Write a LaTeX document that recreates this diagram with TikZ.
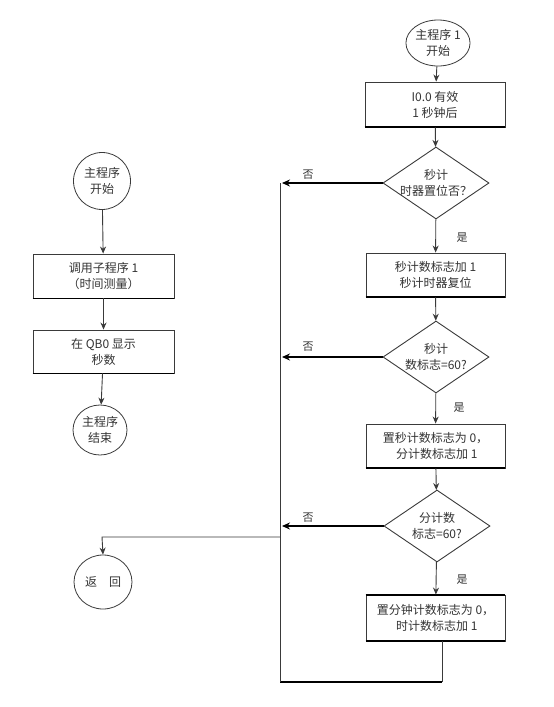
\documentclass[tikz,border=0pt]{standalone}
\usepackage{fontspec}
\setmainfont{Noto Sans CJK SC}
\usetikzlibrary{shapes.geometric,arrows.meta}
\definecolor{ink}{HTML}{333333}
\definecolor{ln}{HTML}{3A3A3A}
\tikzset{
  every node/.style={font=\fontsize{12}{16}\selectfont, text=ink, align=center},
  term/.style={ellipse, draw=ln, line width=0.8pt, inner sep=0pt},
  procbox/.style={rectangle, draw=ln, line width=0.9pt, inner sep=0pt},
  decide/.style={diamond, draw=ln, line width=0.9pt, inner sep=0pt, minimum width=106pt, minimum height=72pt},
  flow/.style={draw=ln, line width=0.9pt, -{Stealth[length=7pt,width=6pt]}},
  noflow/.style={draw=black, line width=1.8pt, -{Stealth[length=8pt,width=7pt]}},
  loopline/.style={draw=ln, line width=0.9pt},
  lbl/.style={font=\fontsize{11}{12}\selectfont}
}
\begin{document}
\begin{tikzpicture}[x=1pt,y=-1pt]
\useasboundingbox (0,0) rectangle (554,707);
% right column
\node[term, minimum width=56pt, minimum height=46pt] (s1) at (438,43) {主程序 1\\开始};
\node[procbox, minimum width=140pt, minimum height=45pt] (b1) at (435,104.5) {I0.0 有效\\1 秒钟后};
\node[decide] (d1) at (436,183) {};
\node (d1t) at (436,183) {秒计\\时器置位否？};
\node[procbox, minimum width=139pt, minimum height=44pt] (b2) at (435.5,275) {秒计数标志加 1\\秒计时器复位};
\node[decide] (d2) at (436,357) {};
\node (d2t) at (436,357) {秒计\\数标志=60?};
\node[procbox, minimum width=139pt, minimum height=44pt] (b3) at (435.5,446) {置秒计数标志为 0，\\\ 分计数标志加 1};
\node[decide] (d3) at (437,526) {};
\node (d3t) at (437,526) {分计数\\标志=60?};
\node[procbox, minimum width=139pt, minimum height=46pt] (b4) at (435.5,618) {置分钟计数标志为 0，\\\ 时计数标志加 1};
% thick bottom edges
\foreach \b in {b1,b2,b3,b4}
  \draw[black, line width=2pt] (\b.south west) -- (\b.south east);
\draw[black, line width=2pt] (b4.north west) -- (b4.north east);
% left column
\node[term, minimum width=57pt, minimum height=57pt] (m1) at (102,181) {主程序\\开始};
\node[procbox, minimum width=141pt, minimum height=44pt] (lb1) at (103.5,276) {调用子程序 1\\（时间测量）};
\node[procbox, minimum width=141pt, minimum height=43pt] (lb2) at (103.5,351.5) {在 QB0 显示\\秒数};
\node[term, minimum width=54pt, minimum height=50pt] (m2) at (100,430) {主程序\\结束};
\node[term, minimum width=58pt, minimum height=54pt] (r) at (103,582) {返\hspace{1em}回};
\foreach \b in {lb1,lb2}
  \draw[black, line width=1.6pt] (\b.south west) -- (\b.south east);
% coordinates
\coordinate (n1) at (282,183);
\coordinate (n2) at (282,357);
\coordinate (n3) at (282,526);
\coordinate (top) at (280,183);
\coordinate (bl) at (280,682);
\coordinate (br) at (442,682);
\coordinate (bo) at (442,641);
\coordinate (split) at (280,537);
\coordinate (rt) at (102,537);
% main flow
\draw[flow] (s1) -- (b1);
\draw[flow] (b1) -- (d1);
\draw[flow] (d1) -- (b2);
\draw[flow] (b2) -- (d2);
\draw[flow] (d2) -- (b3);
\draw[flow] (b3) -- (d3);
\draw[flow] (d3) -- (b4);
\draw[noflow] (d1.west) -- (n1);
\draw[noflow] (d2.west) -- (n2);
\draw[noflow] (d3.west) -- (n3);
\draw[loopline] (bo) -- (br);
\draw[line width=1.8pt, draw=black] (br) -- (bl);
\draw[loopline] (bl) -- (top);
\draw[flow] (split) -- (rt) -- (r.north);
% labels
\node[lbl] (y1) at (462,238) {是};
\node[lbl] (y2) at (459,408) {是};
\node[lbl] (y3) at (462,580) {是};
\node[lbl] (f1) at (308,175) {否};
\node[lbl] (f2) at (308,347) {否};
\node[lbl] (f3) at (308,518) {否};
% left flow
\draw[flow] (m1) -- (lb1);
\draw[flow] (lb1) -- (lb2);
\draw[flow] (lb2) -- (m2);
\end{tikzpicture}
\end{document}
